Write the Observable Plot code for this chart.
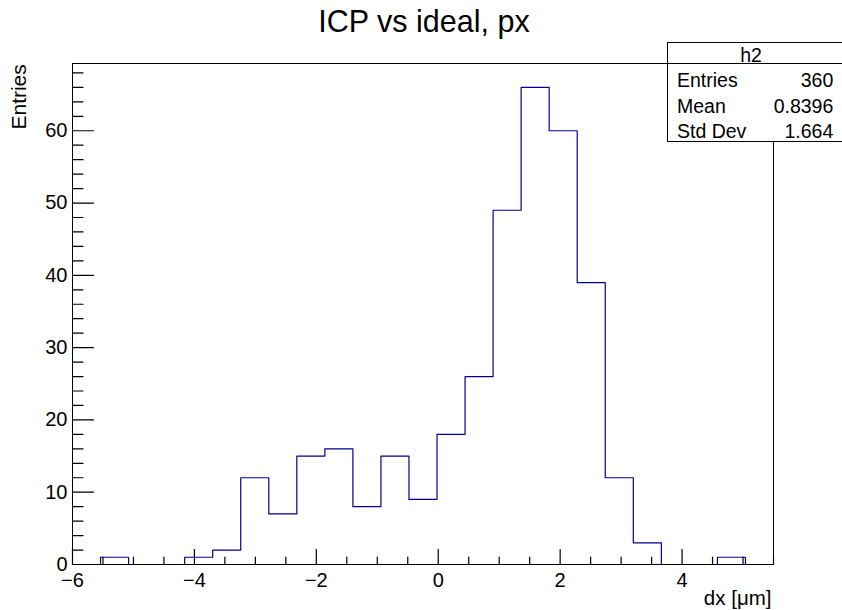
<!DOCTYPE html>
<html>
<head>
<meta charset="utf-8">
<script src="https://cdn.jsdelivr.net/npm/d3@7"></script>
<script src="https://cdn.jsdelivr.net/npm/@observablehq/plot@0.6"></script>
<style>
  body { margin: 0; background: #fff; }
  #wrap { position: relative; width: 842px; height: 610px; font-family: "Liberation Sans", Arial, Helvetica, sans-serif; }
  #wrap svg { font-family: "Liberation Sans", Arial, Helvetica, sans-serif; }
  #stats { position: absolute; left: 667px; top: 42px; width: 176px; height: 100px; box-sizing: border-box;
           border: 1px solid #000; background: #fff; font-size: 19.5px; color: #000; }
  #stats .hdr { position: absolute; left: 0; right: 0; top: 0; height: 20px; border-bottom: 1px solid #000; }
  #stats span { position: absolute; line-height: 19px; white-space: nowrap; }
</style>
</head>
<body>
<div id="wrap"></div>
<script>
// ---- data ----
const histName = "h2";
const title = "ICP vs ideal, px";
const xLabel = "dx [μm]";
const yLabel = "Entries";
const xMin = -6, xMax = 5.5;                 // histogram range (25 bins)
const counts = [0, 1, 0, 0, 1, 2, 12, 7, 15, 16, 8, 15, 9, 18, 26, 49, 66, 60, 39, 12, 3, 0, 0, 1, 0];
const yMax = 69.3;
const xMajorTicks = [-6, -4, -2, 0, 2, 4];
const yMajorTicks = [0, 10, 20, 30, 40, 50, 60];
const xMinorTicks = d3.range(-6, 5.51, 0.5);
const yMinorTicks = d3.range(0, 69, 2);
const statsNames = ["Entries", "Mean", "Std Dev"];
const statsValues = ["360", "0.8396", "1.664"];

// ---- build step outline from bins ----
const nb = counts.length, bw = (xMax - xMin) / nb;
const pts = [{x: xMin, y: 0}];
counts.forEach((c, i) => { pts.push({x: xMin + i * bw, y: c}, {x: xMin + (i + 1) * bw, y: c}); });
pts.push({x: xMax, y: 0});

const W = 842, H = 610, mL = 72, mR = 69, mT = 63, mB = 46;
const fw = W - mL - mR, fh = H - mT - mB;
// tick lengths (pixels) converted to data units
const yPerPx = yMax / fh, xPerPx = (xMax - xMin) / fw;

// tick segments as short polylines (one z-group per tick)
const tickSegs = [];
xMinorTicks.forEach((v, i) => {
  const len = (xMajorTicks.includes(v) ? 15 : 7.5) * yPerPx;
  tickSegs.push({id: "x" + i, x: v, y: 0}, {id: "x" + i, x: v, y: len});
});
yMinorTicks.forEach((v, i) => {
  const len = (yMajorTicks.includes(v) ? 21 : 10.5) * xPerPx;
  tickSegs.push({id: "y" + i, x: xMin, y: v}, {id: "y" + i, x: xMin + len, y: v});
});
yMajorTicks.filter(v => !yMinorTicks.includes(v)).forEach((v, i) => {
  tickSegs.push({id: "Y" + i, x: xMin, y: v}, {id: "Y" + i, x: xMin + 21 * xPerPx, y: v});
});

const chart = Plot.plot({
  width: W, height: H,
  marginLeft: mL, marginRight: mR, marginTop: mT, marginBottom: mB,
  style: {fontSize: "20px", background: "white", color: "black"},
  x: {domain: [xMin, xMax], label: null},
  y: {domain: [0, yMax], label: null},
  marks: [
    Plot.line(pts, {x: "x", y: "y", stroke: "#000099", strokeWidth: 1.2}),
    Plot.line(tickSegs, {x: "x", y: "y", z: "id", stroke: "black", strokeWidth: 1.2}),
    Plot.frame({stroke: "black"}),
    Plot.axisX(xMajorTicks, {tickSize: 0, tickPadding: 8, fontSize: 20, label: null}),
    Plot.axisY(yMajorTicks, {tickSize: 0, tickPadding: 5, fontSize: 20, label: null}),
    Plot.text([title], {text: d => d, frameAnchor: "top", dx: 1, dy: -31.3, lineAnchor: "bottom", textAnchor: "middle", fontSize: 30.5}),
    Plot.text([xLabel], {text: d => d, frameAnchor: "bottom-right", dx: -2, dy: 40, lineAnchor: "bottom", textAnchor: "end", fontSize: 20.5}),
    Plot.text([yLabel], {text: d => d, frameAnchor: "top-left", dx: -47, dy: 0.7, rotate: -90, lineAnchor: "bottom", textAnchor: "end", fontSize: 21})
  ]
});
chart.style.fontFamily = '"Liberation Sans", Arial, Helvetica, sans-serif';

const wrap = document.getElementById("wrap");
wrap.appendChild(chart);

// ---- stats box ----
const box = document.createElement("div");
box.id = "stats";
const hdr = document.createElement("div"); hdr.className = "hdr"; box.appendChild(hdr);
const h = document.createElement("span");
h.textContent = histName; h.style.left = "0px"; h.style.width = "166px"; h.style.textAlign = "center"; h.style.top = "2.6px";
box.appendChild(h);
const rowTops = [27.6, 54.2, 79.2];
statsNames.forEach((nm, i) => {
  const a = document.createElement("span");
  a.textContent = nm; a.style.left = "9px"; a.style.top = rowTops[i] + "px";
  const b = document.createElement("span");
  b.textContent = statsValues[i]; b.style.right = (176 - 2 - 165.3) + "px"; b.style.top = rowTops[i] + "px";
  box.appendChild(a); box.appendChild(b);
});
wrap.appendChild(box);
</script>
</body>
</html>
